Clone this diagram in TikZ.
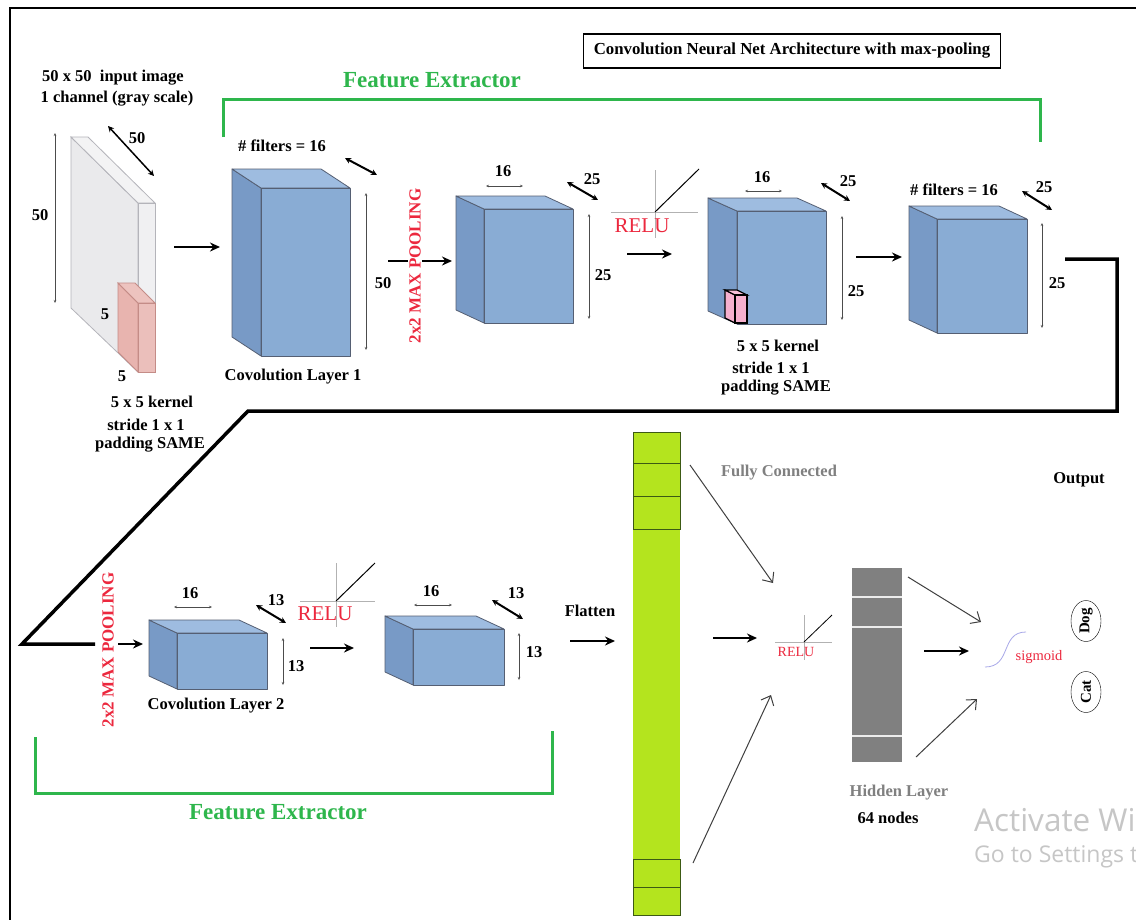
\documentclass[tikz,border=0pt]{standalone}
\usepackage{fontspec}
\setmainfont{Liberation Serif}
\newfontfamily\winfont{Open Sans}
\usetikzlibrary{arrows.meta,shapes.geometric}

\definecolor{cubefront}{RGB}{137,172,212}
\definecolor{cubeside}{RGB}{120,154,198}
\definecolor{cubetop}{RGB}{158,188,224}
\definecolor{cubeedge}{RGB}{85,95,115}
\definecolor{brkgreen}{RGB}{46,182,76}
\definecolor{relured}{RGB}{236,40,62}
\definecolor{flatlime}{RGB}{180,228,30}
\definecolor{flatedge}{RGB}{60,90,20}
\definecolor{hidgray}{RGB}{128,128,128}
\definecolor{slabgray}{RGB}{234,234,236}
\definecolor{slabedge}{RGB}{180,180,186}
\definecolor{kernpink}{RGB}{232,180,175}
\definecolor{kernedge}{RGB}{196,140,135}
\definecolor{kernpinkb}{RGB}{246,176,206}
\definecolor{sigblue}{RGB}{168,168,232}

\tikzset{
	lbl/.style={font=\bfseries\fontsize{16.5}{18}\selectfont, inner sep=0pt},
	graylbl/.style={lbl, text=hidgray},
	fe/.style={text=brkgreen, font=\bfseries\fontsize{23}{25}\selectfont, inner sep=0pt},
	relulbl/.style={text=relured, font=\fontsize{21}{23}\selectfont, inner sep=0pt},
	pool/.style={text=relured, font=\bfseries\fontsize{17}{19}\selectfont, rotate=90, fill=white, inner sep=1pt},
	arr/.style={line width=2pt, -{Stealth[length=10pt,width=9pt]}},
	dimarr/.style={line width=2pt, {Stealth[length=6pt,width=6pt]}-{Stealth[length=6pt,width=6pt]}},
	dimline/.style={black!70, line width=0.7pt, {Stealth[length=3pt,width=2.5pt]}-{Stealth[length=3pt,width=2.5pt]}},
	fcarr/.style={black!75, line width=1pt, -{Straight Barb[length=8pt,width=14pt]}},
	axis/.style={gray!60, line width=0.6pt},
	link/.style={line width=3.5pt, line join=miter},
	bracket/.style={brkgreen, line width=3pt},
	face/.style={draw=cubeedge, line width=0.8pt, line join=round},
}

\begin{document}
\begin{tikzpicture}[x=1pt,y=-1pt]
	\useasboundingbox (0,0) rectangle (1136,919);
	\clip (0,0) rectangle (1136,919);
	\fill[white] (0,0) rectangle (1136,919);
	
	% outer frame
	\draw[line width=2pt] (10,930) -- (10,8) -- (1150,8);
	
	\node[draw, line width=1.6pt, font=\bfseries\fontsize{16.8}{18}\selectfont, minimum width=417pt, minimum height=34pt, inner sep=0pt] (title) at (792,51) {Convolution Neural Net Architecture with max-pooling};
	
	% feature extractor brackets
	\draw[bracket] (223,137) -- (223,99) -- (1040,99) -- (1040,142);
	\node[fe] (fetop) at (432,80) {Feature Extractor};
	\draw[bracket] (35,737) -- (35,793) -- (552,793) -- (552,731);
	\node[fe] (febot) at (278,812) {Feature Extractor};
	
	% input image slab
	\fill[slabgray, draw=slabedge, line width=0.8pt] (71,137) -- (138,203) -- (138,372) -- (71,308) -- cycle;
	\fill[slabgray!60, draw=slabedge, line width=0.8pt] (71,137) -- (88,137) -- (155,203) -- (138,203) -- cycle;
	\fill[slabgray!70, draw=slabedge, line width=0.8pt] (138,203) rectangle (155,372);
	% kernel on the input
	\fill[kernpink, draw=kernedge, line width=0.8pt] (118,283) -- (138,303) -- (138,372) -- (118,352) -- cycle;
	\fill[kernpink!80, draw=kernedge, line width=0.8pt] (118,283) -- (135,283) -- (155,303) -- (138,303) -- cycle;
	\fill[kernpink!85, draw=kernedge, line width=0.8pt] (138,303) rectangle (155,372);
	
	% feature maps (cuboids): name / front x / front y / right x / bottom y / depth x / depth y
	\foreach \nm/\fx/\fy/\rx/\by/\dx/\dy in {c1/261/188/350/356/29/19, c2/484/209/573/323/28/13,
		c3/737/211/826/324/29/13, c4/937/219/1027/333/28/13,
		c5/177/633/267/689/28/13, c6/413/629/504/685/28/13} {
		\fill[cubeside, face] (\fx-\dx,\fy-\dy) -- (\fx,\fy) -- (\fx,\by) -- (\fx-\dx,\by-\dy) -- cycle;
		\fill[cubetop, face] (\fx-\dx,\fy-\dy) -- (\rx-\dx,\fy-\dy) -- (\rx,\fy) -- (\fx,\fy) -- cycle;
		\node[fill=cubefront, face, anchor=north west, inner sep=0pt, outer sep=0pt,
			minimum width={(\rx-\fx)*1pt}, minimum height={(\by-\fy)*1pt}] (\nm) at (\fx,\fy) {};
	}
	
	% kernel on the third map
	\fill[kernpinkb, draw=black, line width=1.2pt] (725,290) -- (735,295) -- (735,323) -- (725,318) -- cycle;
	\fill[kernpinkb!80, draw=black, line width=1.2pt] (725,290) -- (737,290) -- (747,295) -- (735,295) -- cycle;
	\fill[kernpinkb, draw=black, line width=1.2pt] (735,295) rectangle (747,323);
	
	% size marks
	\draw[dimline] (55,133) -- (55,303);
	\draw[dimarr, line width=1.5pt] (108,126) -- (154,176);
	\draw[dimarr] (345,158) -- (377,175);
	\draw[dimline] (366,193) -- (366,350);
	\draw[dimline] (486,186) -- (523,186);
	\draw[dimarr] (567,182) -- (598,200);
	\draw[dimline] (589,214) -- (589,319);
	\draw[dimline] (745,191) -- (782,191);
	\draw[dimarr] (821,183) -- (850,201);
	\draw[dimline] (842,216) -- (842,320);
	\draw[dimarr] (1022,191) -- (1052,210);
	\draw[dimline] (1042,223) -- (1042,328);
	\draw[dimline] (174,607) -- (212,607);
	\draw[dimarr] (256,605) -- (286,623);
	\draw[dimline] (283,638) -- (283,685);
	\draw[dimline] (414,605) -- (452,605);
	\draw[dimarr] (492,600) -- (523,619);
	\draw[dimline] (519,633) -- (519,680);
	
	% black labels
	\foreach \nm/\x/\y/\t in {inA/113/78/{50 x 50\ \ input image}, inB/117/99/{1 channel (gray scale)},
		in50a/40/215/50, in50b/137/138/50, in5a/105/314/5, in5b/122/376/5,
		kA/152/402/{5 x 5 kernel}, kB/146/425/{stride 1 x 1}, kC/150/445/{padding SAME},
		f1/282/146/{\# filters = 16}, c1h/383/283/50, c1n/293/377/{Covolution Layer 1},
		c2w/503/171/16, c2d/592/179/25, c2h/603/275/25,
		c3w/762/177/16, c3d/848/181/25, c3h/856/291/25,
		kD/778/346/{5 x 5 kernel}, kE/771/368/{stride 1 x 1}, kF/776/388/{padding SAME},
		f4/954/190/{\# filters = 16}, c4d/1044/187/25, c4h/1057/283/25,
		c5w/190/593/16, c5d/276/600/13, c5h/296/666/13, c5n/216/706/{Covolution Layer 2},
		c6w/431/591/16, c6d/516/593/13, c6h/534/652/13,
		flat/590/611/Flatten, out/1079/480/Output, nodes/888/818/{64 nodes}} {
		\node[lbl] (\nm) at (\x,\y) {\t};
	}
	\node[graylbl] (fc) at (779,473) {Fully Connected};
	\node[graylbl] (hidden) at (899,793) {Hidden Layer};
	
	% arrow ends
	\coordinate (inR) at (174,247);  \coordinate (c1L) at (220,247);
	\coordinate (p1S) at (388,261);  \coordinate (c2L) at (452,261);
	\coordinate (r1S) at (627,254);  \coordinate (r1E) at (672,254);
	\coordinate (c3R) at (856,257);  \coordinate (c4L) at (902,257);
	\coordinate (p2S) at (118,644);  \coordinate (c5L) at (143,644);
	\coordinate (r2S) at (310,648);  \coordinate (r2E) at (354,648);
	\coordinate (c6R) at (570,641);  \coordinate (flL) at (615,641);
	
	\draw[arr] (inR) -- (c1L);
	\draw[arr] (p1S) -- (c2L);
	\node[pool] (pool1) at (415,266) {2x2 MAX POOLING};
	\draw[arr] (r1S) -- (r1E);
	\draw[arr] (c3R) -- (c4L);
	\draw[arr] (r2S) -- (r2E);
	\draw[arr] (c6R) -- (flL);
	
	% link from first row to second row
	\draw[link] (1065,259) -- (1117,259) -- (1117,411) -- (248,411) -- (22,644) -- (95,644);
	\draw[arr] (p2S) -- (c5L);
	\node[pool] (pool2) at (108,650) {2x2 MAX POOLING};
	
	% relu curves
	\draw[axis] (655,170) -- (655,238);
	\draw[axis] (611,212) -- (698,212);
	\draw[line width=1pt] (655,212) -- (699,169);
	\node[relulbl] (relu1) at (642,226) {RELU};
	\draw[axis] (336,563) -- (336,627);
	\draw[axis] (300,601) -- (375,601);
	\draw[line width=1pt] (336,601) -- (375,563);
	\node[relulbl] (relu2) at (325,614) {RELU};
	
	% flatten column
	\node[fill=flatlime, anchor=north west, inner sep=0pt, minimum width=47pt, minimum height=483pt] (col) at (633,432) {};
	\foreach \a/\b in {432/463, 463/496, 496/529, 859/887, 887/915} {
		\draw[flatedge, line width=1pt] (633,\a) rectangle (680,\b);
	}
	
	% fully connected part
	\coordinate (fcA) at (690,465);  \coordinate (fcB) at (773,583);
	\coordinate (fcC) at (693,863);  \coordinate (fcD) at (771,695);
	\coordinate (fcE) at (713,638);  \coordinate (fcF) at (757,638);
	\draw[fcarr] (fcA) -- (fcB);
	\draw[fcarr] (fcC) -- (fcD);
	\draw[arr] (fcE) -- (fcF);
	\draw[axis] (804,615) -- (804,660);
	\draw[axis] (775,642) -- (832,642);
	\draw[line width=0.8pt] (804,642) -- (832,615);
	\node[text=relured, font=\fontsize{14}{16}\selectfont, inner sep=0pt] (relu3) at (796,652) {RELU};
	
	% hidden layer
	\node[fill=hidgray, anchor=north west, inner sep=0pt, minimum width=50pt, minimum height=194pt] (hid) at (852,568) {};
	\foreach \yy in {597, 627, 736} {
		\draw[white!85!gray, line width=1.2pt] (852,\yy) -- (902,\yy);
	}
	\coordinate (hoA) at (908,577);  \coordinate (hoB) at (981,622);
	\coordinate (hoC) at (924,651);  \coordinate (hoD) at (969,651);
	\coordinate (hoE) at (916,757);  \coordinate (hoF) at (977,699);
	\draw[fcarr] (hoA) -- (hoB);
	\draw[arr] (hoC) -- (hoD);
	\draw[fcarr] (hoE) -- (hoF);
	
	% output
	\draw[sigblue, line width=0.8pt] (985,667) .. controls (1012,667) and (1000,632) .. (1026,632);
	\node[text=relured, font=\fontsize{14.5}{16}\selectfont, inner sep=0pt] (sig) at (1039,657) {sigmoid};
	\node[draw, ellipse, rotate=90, font=\bfseries\fontsize{15}{17}\selectfont, inner sep=0.5pt, minimum height=30pt, minimum width=41pt] (dog) at (1086,621) {Dog};
	\node[draw, ellipse, rotate=90, font=\bfseries\fontsize{15}{17}\selectfont, inner sep=0.5pt, minimum height=30pt, minimum width=41pt] (cat) at (1086,692) {Cat};
	
	% watermark
	\node[anchor=west, text=gray!45, font=\winfont\fontsize{31.5}{33}\selectfont, inner sep=0pt] (actA) at (974,820) {Activate Wi};
	\node[anchor=west, text=gray!45, font=\winfont\fontsize{23}{25}\selectfont, inner sep=0pt] (actB) at (974,857) {Go to Settings t};
\end{tikzpicture}
\end{document}
